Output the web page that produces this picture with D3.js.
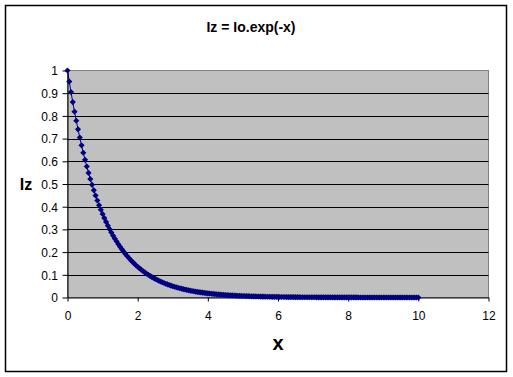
<!DOCTYPE html>
<html>
<head>
<meta charset="utf-8">
<script src="https://cdn.jsdelivr.net/npm/d3@7"></script>
<style>
  body { margin: 0; background: #fff; }
  svg { display: block; }
  text { font-family: "Liberation Sans", Arial, sans-serif; }
</style>
</head>
<body>
<svg class="chartSvg" width="513" height="377"></svg>
<script>
var W = 513
var H = 377
var plotLeft = 67.5, plotRight = 488.5, plotTop = 70.5, plotBottom = 297.5

var cNavy = "#000080"
var cPlot = "#C0C0C0"
var cFrame = "#808080"

var titleText = "Iz = Io.exp(-x)"
var xTitle = "x"
var yTitle = "Iz"

var xTicks = [0, 2, 4, 6, 8, 10, 12]
var yTicks = [0, 0.1, 0.2, 0.3, 0.4, 0.5, 0.6, 0.7, 0.8, 0.9, 1]

// x: one marker every 0.05
var xValues = [
	0, 0.05, 0.1, 0.15, 0.2, 0.25, 0.3, 0.35, 0.4, 0.45, 0.5, 0.55, 0.6, 0.65, 0.7, 0.75, 0.8, 0.85, 0.9, 0.95,
	1, 1.05, 1.1, 1.15, 1.2, 1.25, 1.3, 1.35, 1.4, 1.45, 1.5, 1.55, 1.6, 1.65, 1.7, 1.75, 1.8, 1.85, 1.9, 1.95,
	2, 2.05, 2.1, 2.15, 2.2, 2.25, 2.3, 2.35, 2.4, 2.45, 2.5, 2.55, 2.6, 2.65, 2.7, 2.75, 2.8, 2.85, 2.9, 2.95,
	3, 3.05, 3.1, 3.15, 3.2, 3.25, 3.3, 3.35, 3.4, 3.45, 3.5, 3.55, 3.6, 3.65, 3.7, 3.75, 3.8, 3.85, 3.9, 3.95,
	4, 4.05, 4.1, 4.15, 4.2, 4.25, 4.3, 4.35, 4.4, 4.45, 4.5, 4.55, 4.6, 4.65, 4.7, 4.75, 4.8, 4.85, 4.9, 4.95,
	5, 5.05, 5.1, 5.15, 5.2, 5.25, 5.3, 5.35, 5.4, 5.45, 5.5, 5.55, 5.6, 5.65, 5.7, 5.75, 5.8, 5.85, 5.9, 5.95,
	6, 6.05, 6.1, 6.15, 6.2, 6.25, 6.3, 6.35, 6.4, 6.45, 6.5, 6.55, 6.6, 6.65, 6.7, 6.75, 6.8, 6.85, 6.9, 6.95,
	7, 7.05, 7.1, 7.15, 7.2, 7.25, 7.3, 7.35, 7.4, 7.45, 7.5, 7.55, 7.6, 7.65, 7.7, 7.75, 7.8, 7.85, 7.9, 7.95,
	8, 8.05, 8.1, 8.15, 8.2, 8.25, 8.3, 8.35, 8.4, 8.45, 8.5, 8.55, 8.6, 8.65, 8.7, 8.75, 8.8, 8.85, 8.9, 8.95,
	9, 9.05, 9.1, 9.15, 9.2, 9.25, 9.3, 9.35, 9.4, 9.45, 9.5, 9.55, 9.6, 9.65, 9.7, 9.75, 9.8, 9.85, 9.9, 9.95,
	10
]

var izValues = [
	1.0000, 0.9512, 0.9048, 0.8607, 0.8187, 0.7788, 0.7408, 0.7047, 0.6703, 0.6376, 0.6065, 0.5769, 0.5488, 0.5220, 0.4966, 0.4724, 0.4493, 0.4274, 0.4066, 0.3867,
	0.3679, 0.3499, 0.3329, 0.3166, 0.3012, 0.2865, 0.2725, 0.2592, 0.2466, 0.2346, 0.2231, 0.2122, 0.2019, 0.1920, 0.1827, 0.1738, 0.1653, 0.1572, 0.1496, 0.1423,
	0.1353, 0.1287, 0.1225, 0.1165, 0.1108, 0.1054, 0.1003, 0.0954, 0.0907, 0.0863, 0.0821, 0.0781, 0.0743, 0.0707, 0.0672, 0.0639, 0.0608, 0.0578, 0.0550, 0.0523,
	0.0498, 0.0474, 0.0450, 0.0429, 0.0408, 0.0388, 0.0369, 0.0351, 0.0334, 0.0317, 0.0302, 0.0287, 0.0273, 0.0260, 0.0247, 0.0235, 0.0224, 0.0213, 0.0202, 0.0193,
	0.0183, 0.0174, 0.0166, 0.0158, 0.0150, 0.0143, 0.0136, 0.0129, 0.0123, 0.0117, 0.0111, 0.0106, 0.0101, 0.0096, 0.0091, 0.0087, 0.0082, 0.0078, 0.0074, 0.0071,
	0.0067, 0.0064, 0.0061, 0.0058, 0.0055, 0.0052, 0.0050, 0.0047, 0.0045, 0.0043, 0.0041, 0.0039, 0.0037, 0.0035, 0.0033, 0.0032, 0.0030, 0.0029, 0.0027, 0.0026,
	0.0025, 0.0024, 0.0022, 0.0021, 0.0020, 0.0019, 0.0018, 0.0017, 0.0017, 0.0016, 0.0015, 0.0014, 0.0014, 0.0013, 0.0012, 0.0012, 0.0011, 0.0011, 0.0010, 0.0010,
	0.0009, 0.0009, 0.0008, 0.0008, 0.0007, 0.0007, 0.0007, 0.0006, 0.0006, 0.0006, 0.0006, 0.0005, 0.0005, 0.0005, 0.0005, 0.0004, 0.0004, 0.0004, 0.0004, 0.0004,
	0.0003, 0.0003, 0.0003, 0.0003, 0.0003, 0.0003, 0.0002, 0.0002, 0.0002, 0.0002, 0.0002, 0.0002, 0.0002, 0.0002, 0.0002, 0.0002, 0.0002, 0.0001, 0.0001, 0.0001,
	0.0001, 0.0001, 0.0001, 0.0001, 0.0001, 0.0001, 0.0001, 0.0001, 0.0001, 0.0001, 0.0001, 0.0001, 0.0001, 0.0001, 0.0001, 0.0001, 0.0001, 0.0001, 0.0001, 0.0001,
	0.0000
]

var points = xValues.map(function(x, i) { return {"x": x, "y": izValues[i]} })

var svg = d3.select(".chartSvg")

var xScale = d3.scaleLinear().domain([0, 12]).range([plotLeft, plotRight])
var yScale = d3.scaleLinear().domain([0, 1]).range([plotBottom, plotTop])

// chart frame
svg.append("rect")
	.attr("x", 5.5).attr("y", 5.5)
	.attr("width", 501).attr("height", 366)
	.attr("fill", "white")
	.attr("stroke", "black")
	.attr("stroke-width", 1.5)

// plot area
svg.append("rect")
	.attr("x", plotLeft).attr("y", plotTop)
	.attr("width", plotRight - plotLeft).attr("height", plotBottom - plotTop)
	.attr("fill", cPlot)
	.attr("stroke", cFrame)
	.attr("stroke-width", 1)

// gridlines
svg.append("g")
	.selectAll("line")
	.data(yTicks.filter(function(d) { return d > 0 && d < 1 }))
	.enter()
	.append("line")
	.attr("x1", plotLeft).attr("x2", plotRight)
	.attr("y1", function(d) { return Math.round(yScale(d)) + 0.5 })
	.attr("y2", function(d) { return Math.round(yScale(d)) + 0.5 })
	.attr("stroke", "black")
	.attr("stroke-width", 1)

// axes
var xAxis = svg.append("g")
	.attr("transform", "translate(0," + plotBottom + ")")
	.call(d3.axisBottom(xScale).tickValues(xTicks).tickSize(4).tickSizeOuter(0)
		.tickFormat(d3.format("d")))
var yAxis = svg.append("g")
	.attr("transform", "translate(" + plotLeft + ",0)")
	.call(d3.axisLeft(yScale).tickValues(yTicks).tickSize(5).tickSizeOuter(0)
		.tickFormat(function(d) { return d === 0 || d === 1 ? String(d) : d3.format(".1f")(d) }))

xAxis.select(".domain").attr("stroke", "black")
yAxis.select(".domain").attr("stroke", "black")
svg.selectAll(".tick line").attr("stroke", "black")
xAxis.selectAll(".tick text")
	.attr("font-size", "12px")
	.attr("fill", "black")
	.attr("dy", "0")
	.attr("y", 22.5)
yAxis.selectAll(".tick text")
	.attr("font-size", "12px")
	.attr("fill", "black")
	.attr("x", -9.5)
	.attr("dy", "0.36em")

// series line + diamond markers
var line = d3.line()
	.x(function(d) { return xScale(d.x) })
	.y(function(d) { return yScale(d.y) })

svg.append("path")
	.datum(points)
	.attr("d", line)
	.attr("fill", "none")
	.attr("stroke", cNavy)
	.attr("stroke-width", 1)

var diamond = d3.symbol().type(d3.symbolDiamond2).size(24)

svg.append("g")
	.selectAll("path")
	.data(points)
	.enter()
	.append("path")
	.attr("d", diamond)
	.attr("transform", function(d) { return "translate(" + xScale(d.x) + "," + yScale(d.y) + ")" })
	.attr("fill", cNavy)

// titles
svg.append("text")
	.text(titleText)
	.attr("x", 251)
	.attr("y", 32)
	.attr("font-size", "14px")
	.attr("font-weight", "bold")
	.attr("text-anchor", "middle")

svg.append("text")
	.text(xTitle)
	.attr("x", (plotLeft + plotRight) / 2)
	.attr("y", 350)
	.attr("font-size", "20px")
	.attr("font-weight", "bold")
	.attr("text-anchor", "middle")

svg.append("text")
	.text(yTitle)
	.attr("x", 26)
	.attr("y", 190)
	.attr("font-size", "16px")
	.attr("font-weight", "bold")
	.attr("text-anchor", "middle")
</script>
</body>
</html>
